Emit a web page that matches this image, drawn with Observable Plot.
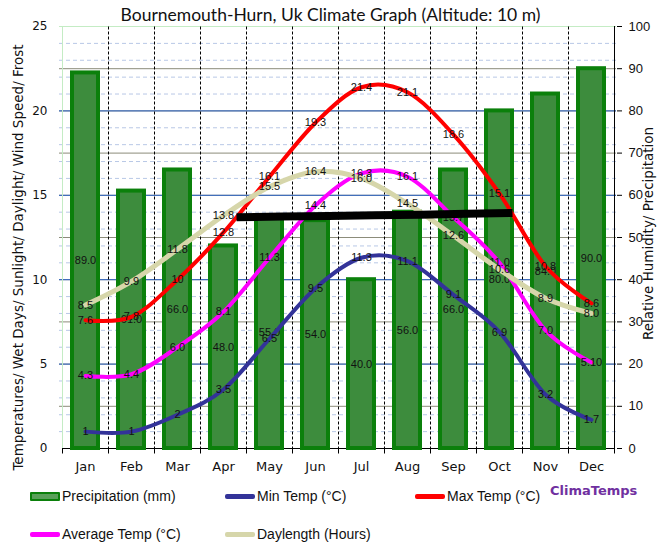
<!DOCTYPE html>
<html>
<head>
<meta charset="utf-8">
<script src="https://cdn.jsdelivr.net/npm/d3@7"></script>
<script src="https://cdn.jsdelivr.net/npm/@observablehq/plot@0.6"></script>
<style>
  html, body { margin: 0; padding: 0; background: #fff; }
  #wrap { position: relative; width: 661px; height: 558px; overflow: hidden; background: #fff; }
  #chart { position: absolute; left: 0; top: 0; }
  #title { position: absolute; left: 0; top: 4px; width: 661px; text-align: center;
           font-family: Lato, sans-serif; font-size: 17.5px; color: #111; white-space: nowrap; }
  #legend { position: absolute; left: 30px; top: 486px; display: grid;
            grid-template-columns: 195px 190px 135px; grid-auto-rows: 38px;
            font-family: "Liberation Sans", Arial, sans-serif; font-size: 14px; color: #111; }
  .item { display: flex; align-items: center; height: 20px; }
  .sw { width: 30px; height: 5px; margin-right: 2px; border-radius: 2px; }
  .sw.bar { height: 5px; border: 2px solid #0b800b; background: #5aa05a; border-radius: 1px; width: 26px; }
  #brand { position: absolute; left: 550px; top: 483px; font-family: "DejaVu Sans", sans-serif;
           font-weight: bold; font-size: 13px; color: #7030a0; }
</style>
</head>
<body>
<div id="wrap">
  <div id="chart"></div>
  <div id="title">Bournemouth-Hurn, Uk Climate Graph (Altitude: 10 m)</div>
  <div id="legend"></div>
  <div id="brand">ClimaTemps</div>
</div>
<script>
// ---- data ----
const months = ["Jan","Feb","Mar","Apr","May","Jun","Jul","Aug","Sep","Oct","Nov","Dec"];
const precipitation = [89, 61, 66, 48, 55, 54, 40, 56, 66, 80, 84, 90];          // mm (right axis)
const minTemp = [1, 1, 2, 3.5, 6.5, 9.5, 11.3, 11.1, 9.1, 6.9, 3.2, 1.7];
const maxTemp = [7.6, 7.8, 10, 12.8, 16.1, 19.3, 21.4, 21.1, 18.6, 15.1, 10.8, 8.6];
const avgTemp = [4.3, 4.4, 6.0, 8.1, 11.3, 14.4, 16.3, 16.1, 13.7, 11.0, 7.0, 5.1];
const avgTempLabels = ["4.3","4.4","6.0","8.1","11.3","14.4","16.3","16.1","13.7","11.0","7.0","5.10"];
const daylength = [8.5, 9.9, 11.8, 13.8, 15.5, 16.4, 16.0, 14.5, 12.6, 10.6, 8.9, 8.0];
const blackLineMonths = ["Apr","May","Jun","Jul","Aug","Sep","Oct"];
const blackLineValues = [13.7, 13.75, 13.78, 13.82, 13.85, 13.9, 13.95];
const leftTicks = [0, 5, 10, 15, 20, 25];
const rightTicks = [0, 10, 20, 30, 40, 50, 60, 70, 80, 90, 100];
const minorGrid = [1,2,3,4,6,7,8,9,11,12,13,14,16,17,18,19,21,22,23,24];
const majorGrid = [5, 10, 15, 20];
const legendNames = ["Precipitation (mm)", "Min Temp (°C)", "Max Temp (°C)", "Average Temp (°C)", "Daylength (Hours)"];

const colors = {
  precipFill: "#3d8c3d", precipStroke: "#0b800b",
  min: "#333399", max: "#ff0000", avg: "#ff00ff", day: "#d6d6aa", black: "#000000"
};
const ratio = 4; // right axis (0-100) / left axis (0-25)

const rows = months.map((m, i) => ({
  month: m, precip: precipitation[i], min: minTemp[i], max: maxTemp[i],
  avg: avgTemp[i], avgLabel: avgTempLabels[i], day: daylength[i]
}));
const blackRows = blackLineMonths.map((m, i) => ({month: m, v: blackLineValues[i]}));

// frame pieces drawn from the scales
function frameMark(index, scales) {
  const x = scales.x, y = scales.y;
  const bw = x(months[1]) - x(months[0]);
  const edges = months.map(m => x(m)).concat([x(months[months.length - 1]) + bw]);
  const yTop = Math.round(y(25)) + 0.5, yBot = Math.round(y(0)) + 0.5;
  const g = d3.create("svg:g");
  g.append("line").attr("x1", Math.round(edges[0]) + 0.5).attr("x2", Math.round(edges[0]) + 0.5)
    .attr("y1", yTop).attr("y2", yBot).attr("stroke", "#c4ecc4");
  edges.slice(1, -1).forEach(e => {
    const xe = Math.round(e) + 0.5;
    g.append("line").attr("x1", xe).attr("x2", xe).attr("y1", yTop).attr("y2", yBot)
      .attr("stroke", "#000").attr("stroke-dasharray", "3,2");
  });
  g.append("line").attr("x1", Math.round(edges[0])).attr("x2", Math.round(edges[12]) + 1)
    .attr("y1", yBot).attr("y2", yBot).attr("stroke", "#000");
  edges.forEach(e => {
    const xe = Math.round(e) + 0.5;
    g.append("line").attr("x1", xe).attr("x2", xe).attr("y1", yBot).attr("y2", yBot + 5).attr("stroke", "#000");
  });
  const xr = Math.round(edges[12]) + 0.5;
  g.append("line").attr("x1", xr).attr("x2", xr).attr("y1", yTop - 0.5).attr("y2", yBot).attr("stroke", "#000");
  return g.node();
}

const labelFont = {fontSize: 11, fontFamily: "Liberation Sans, Arial, sans-serif", fill: "#111"};

const chart = Plot.plot({
  width: 661,
  height: 490,
  marginTop: 26,
  marginBottom: 42,
  marginLeft: 59,
  marginRight: 45,
  style: {background: "white", fontFamily: "DejaVu Sans, sans-serif", fontSize: "12px", overflow: "visible"},
  x: {type: "band", domain: months, padding: 0},
  y: {domain: [0, 25]},
  marks: [
    Plot.ruleY(minorGrid, {stroke: "#b8c8e6", strokeDasharray: "4,3"}),
    Plot.ruleY(rightTicks.filter(v => v > 0 && v < 100).map(v => v / ratio), {stroke: "#8c8c7a"}),
    Plot.ruleY(majorGrid, {stroke: "#2a62c4"}),
    Plot.ruleY([25], {stroke: "#c4ecc4"}),
    frameMark,
    Plot.barY(rows, {x: "month", y: d => d.precip / ratio, fill: colors.precipFill,
      stroke: colors.precipStroke, strokeWidth: 4, insetLeft: 10, insetRight: 10}),
    Plot.text(rows, {x: "month", y: d => d.precip / ratio / 2, text: d => d.precip.toFixed(1), ...labelFont}),
    Plot.line(rows, {x: "month", y: "min", stroke: colors.min, strokeWidth: 4, curve: "cardinal"}),
    Plot.text(rows, {x: "month", y: "min", text: d => String(d.min), ...labelFont}),
    Plot.line(rows, {x: "month", y: "max", stroke: colors.max, strokeWidth: 4, curve: "cardinal"}),
    Plot.text(rows, {x: "month", y: "max", text: d => String(d.max), ...labelFont}),
    Plot.line(rows, {x: "month", y: "avg", stroke: colors.avg, strokeWidth: 4, curve: "cardinal"}),
    Plot.text(rows, {x: "month", y: "avg", text: "avgLabel", ...labelFont}),
    Plot.line(rows, {x: "month", y: "day", stroke: colors.day, strokeWidth: 5, curve: "cardinal"}),
    Plot.text(rows, {x: "month", y: "day", text: d => d.day.toFixed(1), ...labelFont}),
    Plot.line(blackRows, {x: "month", y: "v", stroke: colors.black, strokeWidth: 8, dx: 13, strokeLinecap: "butt"}),
    Plot.axisX({tickSize: 0, tickPadding: 13, fontSize: 13, fontFamily: "DejaVu Sans, sans-serif", fill: "#111", label: null}),
    Plot.axisY(leftTicks, {anchor: "left", tickSize: 0, tickPadding: 12, fontSize: 12,
      fontFamily: "DejaVu Sans, sans-serif", fill: "#111", label: null}),
    Plot.axisY(rightTicks.map(v => v / ratio), {anchor: "right", tickSize: 5, tickPadding: 7,
      tickFormat: d => String(Math.round(d * ratio)), fontSize: 13,
      fontFamily: "Liberation Sans, Arial, sans-serif", fill: "#111", label: null}),
    Plot.text(["Temperatures/ Wet Days/ Sunlight/ Daylight/ Wind Speed/ Frost"], {
      frameAnchor: "left", dx: -41, dy: 20, rotate: -90, fontSize: 13.5,
      fontFamily: "DejaVu Sans, sans-serif", fill: "#111", textAnchor: "middle"}),
    Plot.text(["Relative Humidity/ Precipitation"], {
      frameAnchor: "right", dx: 32, dy: -4, rotate: -90, fontSize: 13.5,
      fontFamily: "DejaVu Sans, sans-serif", fill: "#111", textAnchor: "middle"})
  ]
});
document.getElementById("chart").appendChild(chart);

// legend
const legendColors = [colors.precipStroke, colors.min, colors.max, colors.avg, colors.day];
const legend = document.getElementById("legend");
legendNames.forEach((name, k) => {
  const item = document.createElement("div");
  item.className = "item";
  const sw = document.createElement("span");
  sw.className = k === 0 ? "sw bar" : "sw";
  if (k !== 0) sw.style.background = legendColors[k];
  const tx = document.createElement("span");
  tx.textContent = name;
  item.appendChild(sw); item.appendChild(tx);
  if (k === 3) item.style.gridColumn = "1";
  legend.appendChild(item);
});
</script>
</body>
</html>
